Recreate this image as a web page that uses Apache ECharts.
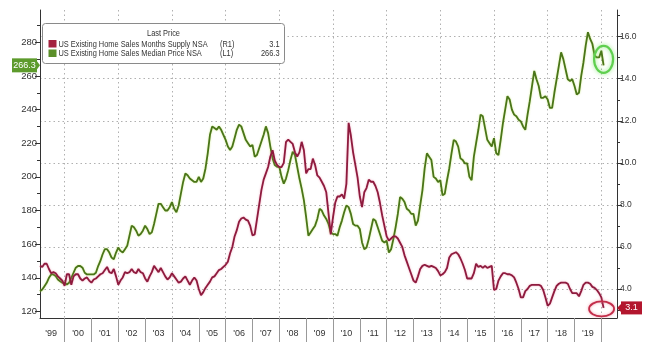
<!DOCTYPE html>
<html>
<head>
<meta charset="utf-8">
<script src="https://cdn.jsdelivr.net/npm/echarts@6/dist/echarts.min.js"></script>
<style>
  html, body { margin: 0; padding: 0; background: #fff; }
  #chart { width: 654px; height: 352px; }
</style>
</head>
<body>
<div id="chart"></div>
<script>
// monthly, Jan 1999 .. Jan 2020 (axis runs on to Jul 2020)
const firstYear = 1999;
const lastYear = 2020;
const lastMonthOnAxis = 7;

// median price, $k (left axis)
const medianPrice = [
  132, 133, 135, 137, 140, 142, 142, 141, 139, 138, 137, 137, // 1999
  136, 137, 140, 143, 146, 147, 147, 146, 143, 142, 142, 142, // 2000
  142, 143, 147, 150, 154, 157, 157, 155, 152, 151, 155, 158, // 2001
  156, 155, 157, 159, 165, 171, 170, 168, 165, 166, 168, 171, // 2002
  169, 166, 167, 172, 178, 184, 184, 182, 180, 180, 182, 185, // 2003
  181, 179, 183, 190, 197, 202, 201, 199, 198, 197, 197, 200, // 2004
  197, 199, 205, 214, 225, 230, 229, 228, 230, 228, 225, 222, // 2005
  218, 216, 218, 223, 228, 231, 230, 226, 222, 220, 218, 219, // 2006
  212, 213, 217, 221, 225, 230, 226, 218, 211, 207, 206, 206, // 2007
  200, 196, 199, 204, 210, 215, 213, 206, 199, 193, 186, 176, // 2008
  165, 167, 169, 171, 175, 181, 180, 177, 175, 172, 167, 166, // 2009
  166, 165, 170, 174, 179, 183, 182, 178, 172, 171, 171, 169, // 2010
  161, 157, 158, 163, 169, 175, 174, 170, 166, 162, 161, 162, // 2011
  155, 157, 163, 170, 178, 188, 187, 185, 181, 180, 178, 178, // 2012
  171, 174, 183, 192, 205, 214, 212, 210, 200, 199, 197, 198, // 2013
  189, 190, 198, 205, 214, 222, 221, 218, 211, 210, 208, 208, // 2014
  200, 198, 212, 220, 228, 237, 236, 229, 222, 220, 218, 223, // 2015
  214, 213, 222, 232, 240, 248, 246, 240, 237, 236, 234, 233, // 2016
  230, 228, 237, 245, 254, 263, 258, 254, 247, 247, 248, 246, // 2017
  241, 241, 250, 258, 266, 274, 270, 264, 258, 257, 258, 254, // 2018
  249, 250, 260, 268, 278, 286, 282, 279, 272, 271, 271, 275, // 2019
  266.3                                                       // 2020
];

// months supply (right axis)
const monthsSupply = [
  5.1, 5.05, 5.2, 5.2, 4.95, 4.75, 4.8, 4.75, 4.6, 4.5, 4.4, 4.15,   // 1999
  4.7, 4.7, 4.2, 4.6, 4.7, 4.7, 4.5, 4.4, 4.5, 4.55, 4.4, 4.3,        // 2000
  4.45, 4.5, 4.6, 4.7, 4.75, 4.9, 5.05, 4.8, 4.75, 4.95, 4.6, 4.2,    // 2001
  4.4, 4.55, 4.8, 4.75, 4.8, 4.95, 4.8, 4.75, 4.95, 4.8, 4.75, 4.5,   // 2002
  4.35, 4.6, 4.8, 5.1, 4.95, 4.8, 5.0, 4.8, 4.6, 4.45, 4.55, 4.75,    // 2003
  4.6, 4.45, 4.3, 4.35, 4.5, 4.6, 4.4, 4.2, 4.4, 4.55, 4.4, 4.0,      // 2004
  3.7, 3.85, 4.05, 4.2, 4.35, 4.55, 4.6, 4.75, 4.9, 4.95, 5.05, 5.15, // 2005
  5.3, 5.7, 6.0, 6.5, 6.8, 7.2, 7.35, 7.4, 7.3, 7.25, 7.0, 6.55,      // 2006
  6.6, 7.3, 8.0, 8.7, 9.2, 9.5, 9.8, 10.3, 10.6, 10.1, 9.9, 9.8,      // 2007
  9.8, 10.0, 11.0, 11.1, 11.0, 10.9, 10.5, 10.3, 10.5, 11.0, 10.6, 9.5, // 2008
  9.7, 9.7, 10.2, 9.9, 9.4, 9.3, 9.1, 8.9, 8.6, 7.6, 6.6, 7.4,        // 2009
  8.1, 8.4, 8.4, 8.5, 8.3, 9.0, 11.9, 11.3, 10.5, 9.9, 9.3, 8.4,      // 2010
  7.9, 8.6, 8.8, 9.2, 9.1, 9.1, 8.9, 8.6, 8.1, 7.5, 7.0, 6.5,         // 2011
  6.3, 6.4, 6.5, 6.5, 6.4, 6.2, 6.0, 5.6, 5.3, 5.0, 4.7, 4.4,         // 2012
  4.3, 4.6, 4.95, 5.1, 5.15, 5.1, 5.05, 5.1, 5.05, 5.0, 4.85, 4.65,   // 2013
  4.7, 4.8, 5.0, 5.5, 5.65, 5.7, 5.75, 5.65, 5.45, 5.2, 4.9, 4.5,     // 2014
  4.5, 4.5, 4.75, 5.2, 5.05, 5.1, 5.0, 5.1, 5.0, 5.05, 5.1, 3.95,     // 2015
  4.0, 4.4, 4.6, 4.75, 4.75, 4.7, 4.7, 4.65, 4.55, 4.3, 4.0, 3.6,     // 2016
  3.6, 3.9, 4.0, 4.15, 4.2, 4.2, 4.2, 4.2, 4.15, 3.95, 3.6, 3.2,      // 2017
  3.3, 3.6, 3.9, 4.15, 4.25, 4.3, 4.3, 4.3, 4.25, 4.0, 3.8, 3.8,      // 2018
  3.8, 3.65, 3.9, 4.2, 4.3, 4.3, 4.25, 4.1, 4.05, 3.95, 3.8, 3.6,     // 2019
  3.1                                                                 // 2020
];

const leftTicks = [120, 140, 160, 180, 200, 220, 240, 260, 280];
const leftMinorTicks = [130, 150, 170, 190, 210, 230, 250, 270, 290];
const rightTicks = [4, 6, 8, 10, 12, 14, 16];
const rightMinorTicks = [3, 5, 7, 9, 11, 13, 15, 17];

const priceName = 'US Existing Home Sales Median Price NSA';
const supplyName = 'US Existing Home Sales Months Supply NSA';

const months = [];
for (let y = firstYear; y <= lastYear; y++) {
  for (let m = 1; m <= 12; m++) {
    if (y === lastYear && m > lastMonthOnAxis) break;
    months.push(y + '-' + String(m).padStart(2, '0'));
  }
}

const GREEN = '#4a7519';
const RED = '#8e1b3e';
const FONT = "'Liberation Sans', Arial, sans-serif";
const NARROW = "'Liberation Sans Narrow', 'Liberation Sans', Arial, sans-serif";
const dotted = { color: '#b0b0b0', width: 1, type: [1.5, 3] };

const chart = echarts.init(document.getElementById('chart'));

const option = {
  animation: false,
  backgroundColor: '#fff',
  grid: { left: 40, right: 37, top: 10, bottom: 34 },
  xAxis: {
    type: 'category',
    data: months,
    boundaryGap: false,
    axisLine: { lineStyle: { color: '#333', width: 1 } },
    axisTick: {
      interval: (i, v) => v.endsWith('-12'),
      length: 24,
      lineStyle: { color: '#999' }
    },
    axisLabel: {
      // one label in the middle of each full year
      interval: (i, v) => v.endsWith('-06') && +v.slice(0, 4) < lastYear,
      formatter: v => "'" + v.slice(2, 4),
      margin: 11,
      fontSize: 9,
      color: '#333',
      fontFamily: FONT
    },
    splitLine: {
      show: true,
      interval: (i, v) => v.endsWith('-12') && (+v.slice(0, 4)) % 2 === 1,
      lineStyle: dotted
    }
  },
  yAxis: [
    {
      type: 'value', position: 'left',
      min: 116.1, max: 299.2,
      axisLine: { show: true, lineStyle: { color: '#333' } },
      axisTick: { show: true, customValues: leftTicks, length: 5, lineStyle: { color: '#333' } },
      axisLabel: { customValues: leftTicks, fontSize: 9.5, color: '#333', margin: 3, fontFamily: NARROW },
      splitLine: { show: false }
    },
    {
      type: 'value', position: 'right',
      min: 2.62, max: 17.27,
      axisLine: { show: true, lineStyle: { color: '#333' } },
      axisTick: { show: true, customValues: rightTicks, length: 5, lineStyle: { color: '#333' } },
      axisLabel: {
        customValues: rightTicks, fontSize: 8.5, color: '#333', margin: 3, fontFamily: FONT,
        formatter: v => v.toFixed(1)
      },
      splitLine: { show: true, lineStyle: dotted }
    },
    {
      type: 'value', position: 'left',
      min: 116.1, max: 299.2,
      axisLine: { show: false },
      axisTick: { show: true, customValues: leftMinorTicks, length: 3, lineStyle: { color: '#333' } },
      axisLabel: { show: false },
      splitLine: { show: false }
    },
    {
      type: 'value', position: 'right',
      min: 2.62, max: 17.27,
      axisLine: { show: false },
      axisTick: { show: true, customValues: rightMinorTicks, length: 3, lineStyle: { color: '#333' } },
      axisLabel: { show: false },
      splitLine: { show: false }
    }
  ],
  series: [
    {
      name: priceName,
      type: 'line',
      yAxisIndex: 0,
      data: medianPrice,
      showSymbol: false,
      lineStyle: { color: GREEN, width: 1.8, shadowColor: 'rgba(180,225,70,0.6)', shadowBlur: 2 },
      z: 3
    },
    {
      name: supplyName,
      type: 'line',
      yAxisIndex: 1,
      data: monthsSupply,
      showSymbol: false,
      lineStyle: { color: RED, width: 1.8, shadowColor: 'rgba(230,90,130,0.5)', shadowBlur: 2 },
      z: 4
    }
  ]
};

chart.setOption(option);

// last-price tags, circles and the legend box
const gLast = medianPrice.length - 1;
const rLast = monthsSupply.length - 1;
const gPt = chart.convertToPixel({ seriesIndex: 0 }, [gLast, medianPrice[gLast]]);
const rPt = chart.convertToPixel({ seriesIndex: 1 }, [rLast, monthsSupply[rLast]]);
const gTagY = chart.convertToPixel({ yAxisIndex: 0 }, medianPrice[gLast]);
const rTagY = chart.convertToPixel({ yAxisIndex: 1 }, monthsSupply[rLast]);

const tagFont = '9px ' + FONT;
const legFont = '9.5px ' + FONT;
const squeeze = 0.78; // the legend type is a condensed face

function legendText(x, y, text, align) {
  return {
    type: 'text', x: x, y: y, scaleX: squeeze, z: 31,
    style: { text: text, fill: '#333', font: legFont, align: align || 'left', verticalAlign: 'middle' }
  };
}

chart.setOption({
  graphic: [
    // green tag on the left axis
    { type: 'rect', shape: { x: 12, y: gTagY - 7, width: 25, height: 14 }, style: { fill: '#5d9b2c' }, z: 20 },
    { type: 'polygon', shape: { points: [[37, gTagY - 4], [40, gTagY], [37, gTagY + 4]] }, style: { fill: '#5d9b2c' }, z: 20 },
    { type: 'text', x: 24.5, y: gTagY, style: { text: medianPrice[gLast].toFixed(1), fill: '#fff', font: tagFont, align: 'center', verticalAlign: 'middle' }, z: 21 },
    // red tag on the right axis
    { type: 'rect', shape: { x: 621, y: rTagY - 6.5, width: 21, height: 13 }, style: { fill: '#b3162e' }, z: 20 },
    { type: 'polygon', shape: { points: [[621, rTagY - 4], [617, rTagY], [621, rTagY + 4]] }, style: { fill: '#b3162e' }, z: 20 },
    { type: 'text', x: 631.5, y: rTagY, style: { text: monthsSupply[rLast].toFixed(1), fill: '#fff', font: tagFont, align: 'center', verticalAlign: 'middle' }, z: 21 },
    // circles round the last prints
    {
      type: 'ellipse', shape: { cx: gPt[0], cy: gPt[1] - 6, rx: 9.5, ry: 13.5 },
      style: { fill: 'none', stroke: '#5fcf4f', lineWidth: 2.2, shadowColor: 'rgba(120,230,100,0.8)', shadowBlur: 4 }, z: 15
    },
    {
      type: 'ellipse', shape: { cx: rPt[0] - 2, cy: rPt[1] + 1, rx: 12.5, ry: 7.5 },
      style: { fill: 'none', stroke: '#c22d4a', lineWidth: 1.8, shadowColor: 'rgba(240,120,140,0.7)', shadowBlur: 3 }, z: 15
    },
    // legend box
    { type: 'rect', shape: { x: 42.5, y: 23.5, width: 242, height: 40, r: 3 }, style: { fill: '#fff', stroke: '#8a8a8a', lineWidth: 1 }, z: 30 },
    { type: 'rect', shape: { x: 48.5, y: 40, width: 8, height: 7.5 }, style: { fill: '#a3223f' }, z: 31 },
    { type: 'rect', shape: { x: 48.5, y: 49.5, width: 8, height: 7.5 }, style: { fill: '#5b8f29' }, z: 31 },
    legendText(163.5, 33.5, 'Last Price', 'center'),
    legendText(58.5, 44, supplyName),
    legendText(220, 44, '(R1)'),
    legendText(279.5, 44, monthsSupply[rLast].toFixed(1), 'right'),
    legendText(58.5, 53.5, priceName),
    legendText(220, 53.5, '(L1)'),
    legendText(279.5, 53.5, medianPrice[gLast].toFixed(1), 'right')
  ]
});
</script>
</body>
</html>
